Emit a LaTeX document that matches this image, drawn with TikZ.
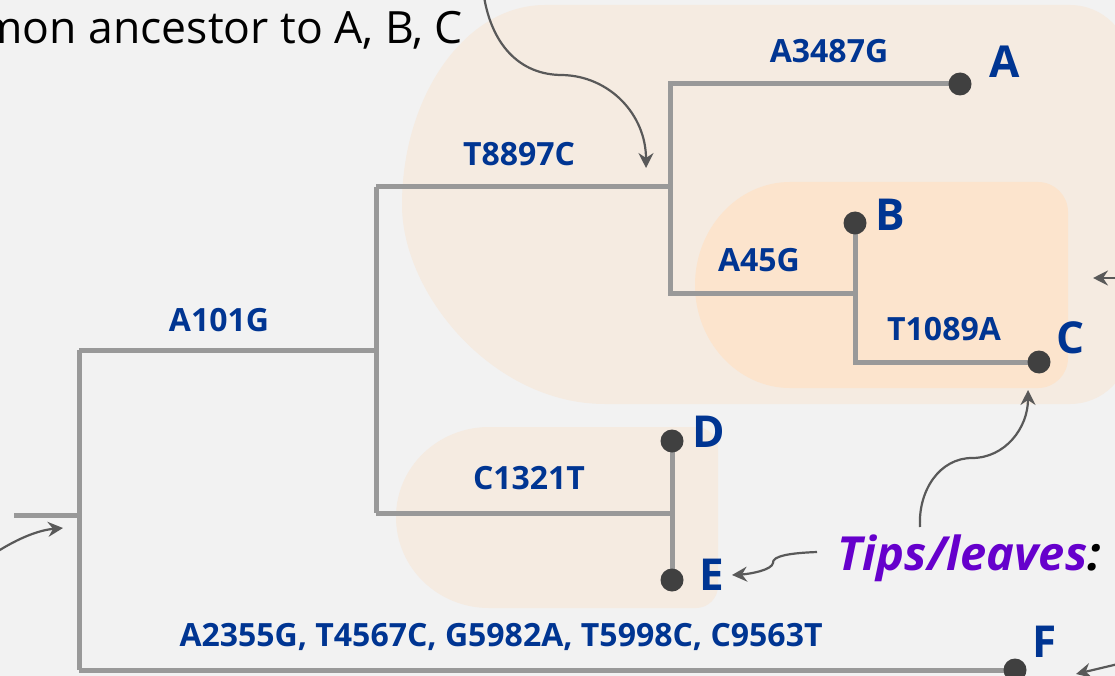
\documentclass[tikz,border=0pt]{standalone}
\usepackage{fontspec}
\setmainfont{Open Sans}
\usetikzlibrary{arrows.meta}

\definecolor{pagebg}{HTML}{F2F2F2}
\definecolor{cladeouter}{HTML}{F5EBE1}
\definecolor{cladeinner}{HTML}{FCE4CD}
\definecolor{mutblue}{HTML}{003592}
\definecolor{branchgray}{HTML}{999999}
\definecolor{tipdark}{HTML}{404040}
\definecolor{notegray}{HTML}{595959}
\definecolor{tipviolet}{HTML}{6600CC}

\pgfdeclarelayer{back}
\pgfdeclarelayer{mid}
\pgfsetlayers{back,mid,main}

\tikzset{
  branch/.style={draw=branchgray, line width=5pt, line join=miter},
  leaf/.style={circle, fill=tipdark, minimum size=23pt, inner sep=0pt},
  mutation/.style={text=mutblue, font=\bfseries\fontsize{32}{35}\selectfont, inner sep=0pt, anchor=base},
  leafname/.style={text=mutblue, font=\bfseries\fontsize{44}{48}\selectfont, inner sep=0pt, anchor=base},
  note/.style={draw=notegray, line width=2.2pt,
    -{Stealth[length=15pt, width=15pt, inset=5pt]}},
}

\begin{document}
\begin{tikzpicture}[x=1pt, y=-1pt]
\useasboundingbox (0,0) rectangle (1115,676);
\clip (0,0) rectangle (1115,676);

% clade shading
\begin{pgfonlayer}{back}
  \fill[pagebg] (0,0) rectangle (1115,676);
  % clade A, B, C
  \fill[cladeouter, rounded corners=60pt]
    (1000,5) -- (1130,5) -- (1130,404) -- (1000,404) [sharp corners] -- (605,404)
    .. controls (493,404) and (402,294) .. (402,205)
    .. controls (402,95) and (466,5) .. (545,5) -- cycle;
  % clade B, C
  \fill[cladeinner, rounded corners=30pt]
    (900,182) -- (1068,182) -- (1068,388) -- (900,388) [sharp corners] -- (790,388)
    .. controls (738,388) and (695,342) .. (695,285)
    .. controls (695,228) and (738,182) .. (790,182) -- cycle;
  % clade D, E
  \fill[cladeouter, rounded corners=22pt]
    (600,427) -- (718,427) -- (718,608) -- (600,608) [sharp corners] -- (489,608)
    .. controls (438,608) and (396,568) .. (396,517)
    .. controls (396,467) and (438,427) .. (489,427) -- cycle;
\end{pgfonlayer}

% tips
\node[leaf] (A) at (960,84) {};
\node[leaf] (B) at (855,223) {};
\node[leaf] (C) at (1039,362) {};
\node[leaf] (D) at (672,441) {};
\node[leaf] (E) at (672,580) {};
\node[leaf] (F) at (1015,670) {};

% internal joints
\coordinate (stub) at (14,515);
\coordinate (rootT) at (79,350);
\coordinate (rootB) at (79,670);
\coordinate (rootM) at (79,515);
\coordinate (n1T) at (376,187);
\coordinate (n1B) at (376,513);
\coordinate (n1M) at (376,350);
\coordinate (n2) at (670,187);
\coordinate (n3) at (855,293);
\coordinate (n4) at (672,513);

% branches
\begin{pgfonlayer}{mid}
  \draw[branch] (stub) -- (rootM);
  \draw[branch] (rootT) -- (rootB);
  \draw[branch] (rootT) -- (n1M);
  \draw[branch] (rootB) -- (F.center);
  \draw[branch] (n1T) -- (n1B);
  \draw[branch] (n1T) -- (n2);
  \draw[branch] (n1B) -- (n4);
  \draw[branch] (D.center) -- (E.center);
  \draw[branch] (A.center) -| (n2);
  \draw[branch] (n2) |- (n3);
  \draw[branch] (B.center) -- (n3);
  \draw[branch] (n3) |- (C.center);
\end{pgfonlayer}

% mutations along branches
\node[mutation] (mA) at (829,63) {A3487G};
\node[mutation] (mABC) at (519,166) {T8897C};
\node[mutation] (mAE) at (219,331) {A101G};
\node[mutation] (mBC) at (759,271) {A45G};
\node[mutation] (mC) at (944,340) {T1089A};
\node[mutation] (mDE) at (529,489) {C1321T};
\node[mutation] (mF) at (501,646) {A2355G, T4567C, G5982A, T5998C, C9563T};

% tip names
\node[leafname] (lA) at (1005,78) {A};
\node[leafname] (lB) at (890,230) {B};
\node[leafname] (lC) at (1071,353) {C};
\node[leafname] (lD) at (709,447) {D};
\node[leafname] (lE) at (712,590) {E};
\node[leafname] (lF) at (1045,657) {F};

% annotations
\node[inner sep=0pt, anchor=base east, font=\fontsize{44.5}{48}\selectfont] (anc)
  at (463,44) {mon ancestor to A, B, C};
\node[inner sep=0pt, anchor=base east, font=\bfseries\itshape\fontsize{47}{52}\selectfont] (tips)
  at (1101,570) {\textcolor{tipviolet}{Tips/leaves}:};

\coordinate (ancFrom) at (483,-10);
\coordinate (ancTo) at (646,168);
\coordinate (rootFrom) at (-5,553);
\coordinate (rootTo) at (63,528);
\coordinate (cladeFrom) at (1130,278);
\coordinate (cladeTo) at (1093,278);
\coordinate (tipsUp) at (920,527);
\coordinate (tipsUpTo) at (1028,390);
\coordinate (tipsLeft) at (817,552);
\coordinate (tipsLeftTo) at (732,575);
\coordinate (fFrom) at (1135,660);
\coordinate (fTo) at (1076,674);

\draw[note] (ancFrom) .. controls (490,45) and (520,75) .. (562,75)
  .. controls (610,76) and (646,115) .. (ancTo);
\draw[note] (rootFrom) .. controls (20,537) and (40,530) .. (rootTo);
\draw[note] (cladeFrom) -- (cladeTo);
\draw[note] (tipsUp) .. controls (918,490) and (940,458) .. (972,458)
  .. controls (1005,458) and (1028,428) .. (tipsUpTo);
\draw[note] (tipsLeft) .. controls (790,553) and (772,556) .. (773,563)
  .. controls (772,570) and (750,574) .. (tipsLeftTo);
\draw[note] (fFrom) -- (fTo);
\end{tikzpicture}
\end{document}
